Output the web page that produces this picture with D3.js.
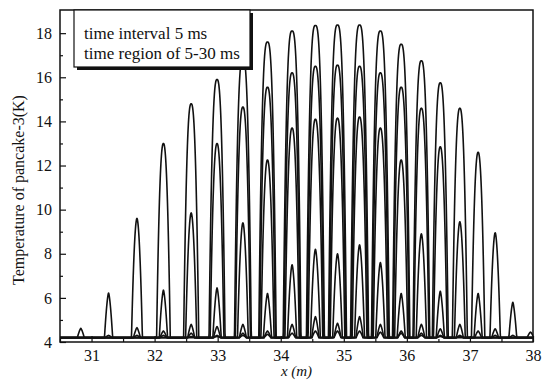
<!doctype html>
<html lang="en">
<head>
  <meta charset="utf-8">
  <title>pancake-3 temperature</title>
  <style>
    * { margin: 0; padding: 0; box-sizing: border-box; }
    body { background: #fff; }
    #container { width: 547px; height: 380px; }
  </style>
</head>
<body>
  <div id="container"></div>
  <script src="https://cdn.jsdelivr.net/npm/d3@7/dist/d3.min.js"></script>
  <script>
    // peak centres along the coil (m)
    const xPeaks = [30.83, 31.27, 31.72, 32.14, 32.58, 32.99, 33.40, 33.79, 34.18, 34.55, 34.90,
                    35.25, 35.58, 35.91, 36.23, 36.53, 36.84, 37.13, 37.40, 37.68, 37.96];

    // peak temperatures (K) for each time snapshot
    const t30 = [4.62, 6.22, 9.6, 13.0, 14.8, 15.9, 16.9, 17.6, 18.1, 18.35, 18.37,
                 18.37, 18.1, 17.5, 16.75, 15.75, 14.6, 12.6, 8.95, 5.8, 4.45];
    const t25 = [4.2, 4.3, 4.65, 6.35, 9.85, 13.0, 14.65, 15.55, 16.2, 16.5, 16.55,
                 16.5, 16.2, 15.55, 14.6, 12.85, 9.45, 6.2, 4.6, 4.3, 4.2];
    const t20 = [4.2, 4.2, 4.3, 4.5, 4.8, 6.45, 9.4, 12.25, 13.7, 14.1, 14.15,
                 14.2, 13.7, 12.25, 8.9, 6.3, 4.8, 4.5, 4.3, 4.2, 4.2];
    const t15 = [4.2, 4.2, 4.2, 4.3, 4.4, 4.7, 4.8, 6.2, 7.5, 8.2, 8.0,
                 8.4, 7.6, 6.2, 4.8, 4.6, 4.3, 4.2, 4.2, 4.2, 4.2];
    const t10 = [4.2, 4.2, 4.2, 4.2, 4.25, 4.3, 4.4, 4.5, 4.8, 5.15, 4.85,
                 5.15, 4.8, 4.5, 4.4, 4.3, 4.25, 4.2, 4.2, 4.2, 4.2];
    const t05 = [4.2, 4.2, 4.2, 4.2, 4.2, 4.25, 4.3, 4.35, 4.4, 4.5, 4.5,
                 4.5, 4.45, 4.4, 4.3, 4.25, 4.2, 4.2, 4.2, 4.2, 4.2];
    const series = [t05, t10, t15, t20, t25, t30];

    const yMajor = [4, 6, 8, 10, 12, 14, 16, 18];
    const yMinor = [5, 7, 9, 11, 13, 15, 17];
    const xMajor = [31, 32, 33, 34, 35, 36, 37, 38];
    const xMinor = [30.5, 31.5, 32.5, 33.5, 34.5, 35.5, 36.5, 37.5];
    const legendLines = ['time interval 5 ms', 'time region of 5-30 ms'];

    const serif = '"Liberation Serif", "DejaVu Serif", "Times New Roman", Times, serif';
    const baseT = 4.2;
    const W = 547, H = 380;
    const m = {l: 60, r: 14, t: 10, b: 38};

    const svg = d3.select('#container').append('svg')
      .attr('width', W).attr('height', H);

    const x = d3.scaleLinear().domain([30.5, 38]).range([m.l, W - m.r]);
    const y = d3.scaleLinear().domain([4, 19.05]).range([H - m.b, m.t]);

    // sample grid along x, plus the exact peak centres
    const xs = d3.range(30.5, 38.0001, 0.004).concat(xPeaks).sort((a, b) => a - b);

    function profile(heights) {
      return xs.map(xv => {
        let t = baseT;
        heights.forEach((h, i) => {
          const a = h - baseT;
          if (a <= 0.01) return;
          const w = 0.052 + 0.0064 * a;
          const u = Math.abs(xv - xPeaks[i]) / w;
          if (u < 1) t = Math.max(t, baseT + a * (1 - Math.pow(u, 1.3 + 0.11 * a)));
        });
        return [xv, t];
      });
    }

    const line = d3.line().x(d => x(d[0])).y(d => y(d[1]));

    svg.append('g').selectAll('path')
      .data(series)
      .enter().append('path')
      .attr('d', d => line(profile(d)))
      .attr('fill', 'none')
      .attr('stroke', '#111')
      .attr('stroke-width', 1.6)
      .attr('stroke-linejoin', 'round');

    // axes, ticks inside
    svg.append('g').attr('transform', `translate(0,${H - m.b})`)
      .call(d3.axisBottom(x).tickValues(xMajor).tickSize(-6).tickPadding(8).tickFormat(d3.format('d')));
    svg.append('g').attr('transform', `translate(0,${H - m.b})`)
      .call(d3.axisBottom(x).tickValues(xMinor).tickSize(-3).tickFormat(''));
    svg.append('g').attr('transform', `translate(${m.l},0)`)
      .call(d3.axisLeft(y).tickValues(yMajor).tickSize(-6).tickPadding(8));
    svg.append('g').attr('transform', `translate(${m.l},0)`)
      .call(d3.axisLeft(y).tickValues(yMinor).tickSize(-3).tickFormat(''));

    svg.selectAll('.domain').remove();
    svg.selectAll('.tick line').attr('stroke', '#111').attr('stroke-width', 1.2);
    svg.selectAll('.tick text')
      .attr('font-family', serif)
      .attr('font-size', 16).attr('fill', '#111');

    // frame
    svg.append('rect')
      .attr('x', m.l).attr('y', m.t)
      .attr('width', W - m.l - m.r).attr('height', H - m.t - m.b)
      .attr('fill', 'none').attr('stroke', '#111').attr('stroke-width', 1.5);

    // legend box with drop shadow
    const lg = svg.append('g');
    lg.append('rect').attr('x', 77).attr('y', 13).attr('width', 176).attr('height', 57).attr('fill', '#111');
    lg.append('rect').attr('x', 74).attr('y', 10).attr('width', 176).attr('height', 57)
      .attr('fill', '#fff').attr('stroke', '#111').attr('stroke-width', 1.2);
    lg.selectAll('text').data(legendLines).enter().append('text')
      .attr('x', 84).attr('y', (d, i) => 39 + i * 20)
      .attr('font-family', serif).attr('font-size', 17).attr('fill', '#111')
      .text(d => d);

    // axis titles
    svg.append('text')
      .attr('transform', `translate(24,${(m.t + H - m.b) / 2 + 14}) rotate(-90)`)
      .attr('text-anchor', 'middle')
      .attr('font-family', serif).attr('font-size', 16).attr('fill', '#111')
      .text('Temperature of pancake-3(K)');

    svg.append('text')
      .attr('x', x(34.25)).attr('y', 376)
      .attr('text-anchor', 'middle')
      .attr('font-family', serif).attr('font-size', 15).attr('fill', '#111')
      .attr('font-style', 'italic')
      .text('x (m)');
  </script>
</body>
</html>
